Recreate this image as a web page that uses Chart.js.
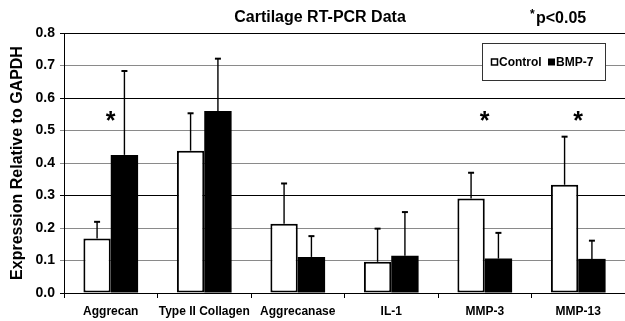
<!DOCTYPE html>
<html>
<head>
<meta charset="utf-8">
<script src="https://cdn.jsdelivr.net/npm/chart.js@4.4.1/dist/chart.umd.min.js"></script>
<style>
  html, body { margin: 0; padding: 0; background: #fff; }
  #wrap { width: 625px; height: 321px; }
</style>
</head>
<body>
<div id="wrap"><canvas id="pcrChart"></canvas></div>
<script>
const categories = ['Aggrecan', 'Type II Collagen', 'Aggrecanase', 'IL-1', 'MMP-3', 'MMP-13'];
const controlValues = [0.168, 0.438, 0.213, 0.096, 0.291, 0.333];
const controlErrors = [0.051, 0.115, 0.124, 0.102, 0.079, 0.148];
const bmpValues = [0.425, 0.560, 0.111, 0.115, 0.106, 0.105];
const bmpErrors = [0.258, 0.161, 0.064, 0.134, 0.079, 0.056];
const significant = [true, false, false, false, true, true];
const starLevel = 0.52;
const yTicks = [0, 0.1, 0.2, 0.3, 0.4, 0.5, 0.6, 0.7, 0.8];

const FONT = 'Arial, "Liberation Sans", sans-serif';

// error bars (upper only), from the bar top to value + error
const errorBars = {
    id: 'errorBars',
    afterDatasetsDraw(chart) {
        const ctx = chart.ctx;
        const yScale = chart.scales.y;
        const errs = [controlErrors, bmpErrors];
        ctx.save();
        ctx.strokeStyle = '#000';
        chart.data.datasets.forEach((ds, i) => {
            chart.getDatasetMeta(i).data.forEach((bar, j) => {
                const top = yScale.getPixelForValue(ds.data[j] + errs[i][j]);
                ctx.lineWidth = 1.4;
                ctx.beginPath();
                ctx.moveTo(bar.x, bar.y);
                ctx.lineTo(bar.x, top);
                ctx.stroke();
                ctx.lineWidth = 2;
                ctx.beginPath();
                ctx.moveTo(bar.x - 3, top);
                ctx.lineTo(bar.x + 3, top);
                ctx.stroke();
            });
        });
        ctx.restore();
    }
};

// title, p-value note, significance stars and the boxed legend
const annotations = {
    id: 'annotations',
    afterDraw(chart) {
        const ctx = chart.ctx;
        const area = chart.chartArea;
        const xScale = chart.scales.x;
        const yScale = chart.scales.y;
        ctx.save();
        ctx.fillStyle = '#000';
        ctx.textBaseline = 'middle';

        ctx.font = 'bold 16px ' + FONT;
        ctx.textAlign = 'center';
        ctx.fillText('Cartilage RT-PCR Data', 320, 18);

        ctx.textAlign = 'left';
        ctx.font = 'bold 12px ' + FONT;
        ctx.fillText('*', 530, 15);
        ctx.font = 'bold 16px ' + FONT;
        ctx.fillText('p<0.05', 536, 19);

        // stars
        ctx.font = 'bold 25px ' + FONT;
        ctx.textBaseline = 'alphabetic';
        significant.forEach((sig, i) => {
            if (!sig) return;
            const m = ctx.measureText('*');
            const w = m.actualBoundingBoxRight + m.actualBoundingBoxLeft;
            const h = m.actualBoundingBoxAscent - m.actualBoundingBoxDescent;
            const cx = xScale.getPixelForValue(i);
            const cy = yScale.getPixelForValue(starLevel);
            ctx.fillText('*', cx - w / 2 + m.actualBoundingBoxLeft, cy + m.actualBoundingBoxAscent - h / 2);
        });

        // legend
        const lx = area.right - 143, ly = area.top + 10.5, lw = 123, lh = 37;
        ctx.fillStyle = '#fff';
        ctx.fillRect(lx, ly, lw, lh);
        ctx.strokeStyle = '#333';
        ctx.lineWidth = 1;
        ctx.strokeRect(lx + 0.5, ly, lw, lh);
        const my = ly + 19.5;
        ctx.lineWidth = 1.5;
        ctx.strokeStyle = '#000';
        ctx.fillStyle = '#fff';
        ctx.fillRect(lx + 9.5, my - 4, 6, 6);
        ctx.strokeRect(lx + 9.5, my - 4, 6, 6);
        ctx.fillStyle = '#000';
        ctx.fillRect(lx + 66, my - 4.5, 7, 7);
        ctx.font = 'bold 12px ' + FONT;
        ctx.textBaseline = 'middle';
        ctx.fillText('Control', lx + 17, my);
        ctx.fillText('BMP-7', lx + 74, my);
        ctx.restore();
    }
};

const gridColor = (c) => {
    const v = Math.round(c.tick.value * 10);
    return [0, 3, 6, 8].includes(v) ? '#000' : '#8a8a8a';
};

new Chart(document.getElementById('pcrChart'), {
    type: 'bar',
    data: {
        labels: categories,
        datasets: [
            {
                label: 'Control',
                data: controlValues,
                backgroundColor: '#fff',
                borderColor: '#000',
                borderWidth: 2,
                borderSkipped: false
            },
            {
                label: 'BMP-7',
                data: bmpValues,
                backgroundColor: '#000',
                borderColor: '#000',
                borderWidth: 0
            }
        ]
    },
    options: {
        responsive: true,
        maintainAspectRatio: false,
        animation: false,
        events: [],
        categoryPercentage: 0.585,
        barPercentage: 1.0,
        layout: { padding: { top: 33, right: 0, bottom: 0, left: 0 } },
        plugins: {
            legend: { display: false },
            tooltip: { enabled: false }
        },
        scales: {
            x: {
                offset: true,
                grid: { offset: true, drawOnChartArea: false, tickLength: 5, color: '#000' },
                border: { color: '#000', width: 1 },
                ticks: {
                    padding: 6,
                    color: '#000',
                    maxRotation: 0,
                    minRotation: 0,
                    autoSkip: false,
                    font: { family: FONT, size: 12, weight: 'bold' }
                },
                afterFit(scale) { scale.height = 28; }
            },
            y: {
                min: 0,
                max: 0.8,
                afterBuildTicks(scale) { scale.ticks = yTicks.map(v => ({ value: v })); },
                grid: { color: gridColor, tickLength: 4 },
                border: { color: '#000', width: 1 },
                ticks: {
                    padding: 5,
                    color: '#000',
                    font: { family: FONT, size: 14, weight: 'bold' },
                    callback: (v) => Number(v).toFixed(1)
                },
                title: {
                    display: true,
                    text: 'Expression Relative to GAPDH',
                    color: '#000',
                    font: { family: FONT, size: 16, weight: 'bold' },
                    padding: { top: 8, bottom: 0 }
                },
                afterFit(scale) { scale.width = 64; }
            }
        }
    },
    plugins: [errorBars, annotations]
});
</script>
</body>
</html>
